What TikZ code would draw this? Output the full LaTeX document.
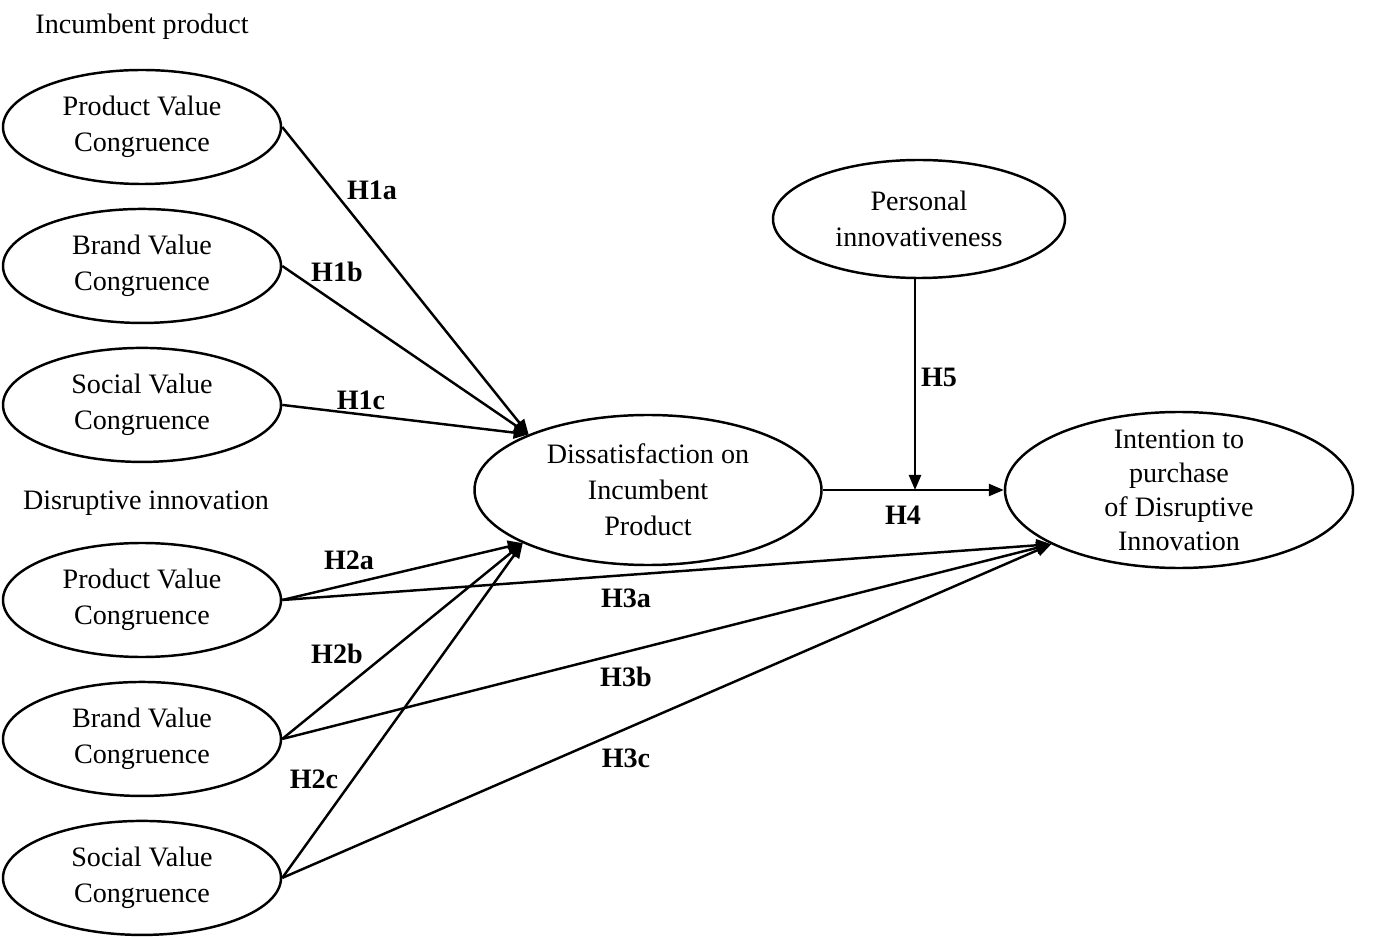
\documentclass[tikz,border=0pt]{standalone}
\usepackage{fontspec}
\setmainfont{Liberation Serif}
\usetikzlibrary{positioning,arrows.meta,shapes.geometric}
\tikzset{
  var/.style={draw, ellipse, line width=1.4pt, minimum width=55.6mm, minimum height=22.8mm, inner sep=0pt, align=center},
  hyp/.style={font=\fontsize{16}{20.5}\selectfont\bfseries},
  grp/.style={inner sep=0pt},
  ar/.style={-{Triangle[length=3mm,width=2.4mm]}, line width=1.4pt},
}

\begin{document}
\begin{tikzpicture}[x=0.2mm, y=-0.2mm, node distance=4.5mm, font=\fontsize{16}{20.5}\selectfont]
\useasboundingbox (0,0) rectangle (1373,937);
% left column
\node[grp] (inc) at (142,27) {Incumbent product};
\node[var] (ipv) at (142,127) {Product Value\\Congruence};
\node[var, below=of ipv] (ibv) {Brand Value\\Congruence};
\node[var, below=of ibv] (isv) {Social Value\\Congruence};
\node[grp] (dis) at (146,503) {Disruptive innovation};
\node[var] (dpv) at (142,600) {Product Value\\Congruence};
\node[var, below=of dpv] (dbv) {Brand Value\\Congruence};
\node[var, below=of dbv] (dsv) {Social Value\\Congruence};
% centre and right
\node[var, minimum width=69.4mm, minimum height=30mm] (dsat) at (648,490) {Dissatisfaction on\\Incumbent\\Product};
\node[var, minimum width=58.4mm, minimum height=23.6mm] (pin) at (919,219) {Personal\\innovativeness};
\node[var, minimum width=69.6mm, minimum height=31.2mm, inner ysep=-1.6mm, font=\fontsize{16}{19.3}\selectfont] (int) at (1179,490) {Intention to\\purchase\\of Disruptive\\Innovation};
\coordinate (mod) at (915,490);
% connectors
\draw[ar] (ipv.east) -- (dsat.155);
\draw[ar] (ibv.east) -- (dsat.155);
\draw[ar] (isv.east) -- (dsat.155);
\draw[ar] (dpv.east) -- (dsat.203);
\draw[ar] (dbv.east) -- (dsat.203);
\draw[ar] (dsv.east) -- (dsat.203);
\draw[ar] (dpv.east) -- (int.203);
\draw[ar] (dbv.east) -- (int.203);
\draw[ar] (dsv.east) -- (int.203);
\draw[ar] (dsat.east) -- (int.west);
\draw[ar] (mod |- pin.south) -- (mod);
% hypotheses
\node[hyp] (h1a) at (372,190) {H1a};
\node[hyp] (h1b) at (337,272) {H1b};
\node[hyp] (h1c) at (361,400) {H1c};
\node[hyp] (h2a) at (349,560) {H2a};
\node[hyp] (h2b) at (337,654) {H2b};
\node[hyp] (h2c) at (314,779) {H2c};
\node[hyp] (h3a) at (626,598) {H3a};
\node[hyp] (h3b) at (626,677) {H3b};
\node[hyp] (h3c) at (626,758) {H3c};
\node[hyp] (h4) at (903,515) {H4};
\node[hyp] (h5) at (939,377) {H5};
\end{tikzpicture}
\end{document}
